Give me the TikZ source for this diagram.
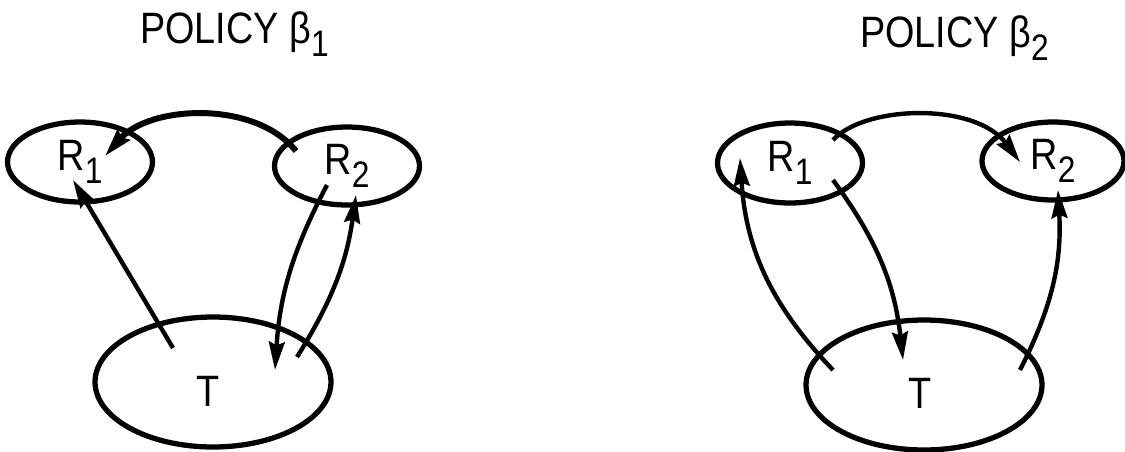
\documentclass[tikz,border=0pt]{standalone}
\usepackage{fontspec}
\setmainfont{Liberation Sans}[FakeStretch=0.86]
\usepackage{tikz}
\usetikzlibrary{arrows.meta,shapes.geometric}
\newcommand{\lowidx}[1]{\raisebox{-0.3em}{\fontsize{21}{21}\selectfont #1}}
\tikzset{
  statenode/.style={
    ellipse, draw=black, line width=3pt,
    minimum width=#1, inner sep=0pt,
    font=\fontsize{25}{25}\selectfont
  },
  statenode/.default=2.9cm,
  policyarrow/.style={
    -{Stealth[length=16pt,width=9pt,inset=2pt]}, line width=2.5pt
  },
  titlenode/.style={
    font=\fontsize{25}{25}\selectfont, inner sep=0pt
  },
}
\begin{document}
\begin{tikzpicture}[x=0.02cm,y=-0.02cm]
  \useasboundingbox (0,0) rectangle (1125,451);

  % Policy beta_1
  \node[titlenode, anchor=base west] (title1) at (140,43) {POLICY β\lowidx{1}};
  \node[statenode, minimum height=1.6cm] (R1a) at (80,162) {R\lowidx{1}};
  \node[statenode, minimum height=1.56cm] (R2a) at (347,166) {R\lowidx{2}};
  \node[statenode=4.72cm, minimum height=2.6cm] (Ta) at (213,382) {};
  \node[titlenode, anchor=base] (Tlabela) at (208,406) {T};

  \draw[policyarrow, line width=3.4pt]
    ([shift={(-51,-15)}]R2a.center) .. controls (255,100) and (150,105)
    .. ([shift={(25,-6)}]R1a.center);
  \draw[policyarrow] ([shift={(-40,-34)}]Ta.center) -- ([shift={(-7,18)}]R1a.center);
  \draw[policyarrow] ([shift={(-20,19)}]R2a.center) to[bend right=12]
    ([shift={(62,-12)}]Ta.center);
  \draw[policyarrow] ([shift={(84,-25)}]Ta.center) to[bend right=12]
    ([shift={(9,29)}]R2a.center);

  % Policy beta_2
  \node[titlenode, anchor=base west] (title2) at (860,47) {POLICY β\lowidx{2}};
  \node[statenode, minimum height=1.6cm] (R1b) at (790,163) {R\lowidx{1}};
  \node[statenode=2.84cm, minimum height=1.56cm] (R2b) at (1053,161) {R\lowidx{2}};
  \node[statenode=4.72cm, minimum height=2.6cm] (Tb) at (924,385) {};
  \node[titlenode, anchor=base] (Tlabelb) at (920,408) {T};

  \draw[policyarrow] ([shift={(43,-23)}]R1b.center) .. controls (865,105) and (975,102)
    .. ([shift={(-33,1)}]R2b.center);
  \draw[policyarrow] ([shift={(-91,-15)}]Tb.center) to[bend left=20]
    ([shift={(-50,-5)}]R1b.center);
  \draw[policyarrow] ([shift={(43,17)}]R1b.center) to[bend left=15]
    ([shift={(-21,-25)}]Tb.center);
  \draw[policyarrow] ([shift={(96,-15)}]Tb.center) to[bend right=15]
    ([shift={(5,29)}]R2b.center);
\end{tikzpicture}
\end{document}
